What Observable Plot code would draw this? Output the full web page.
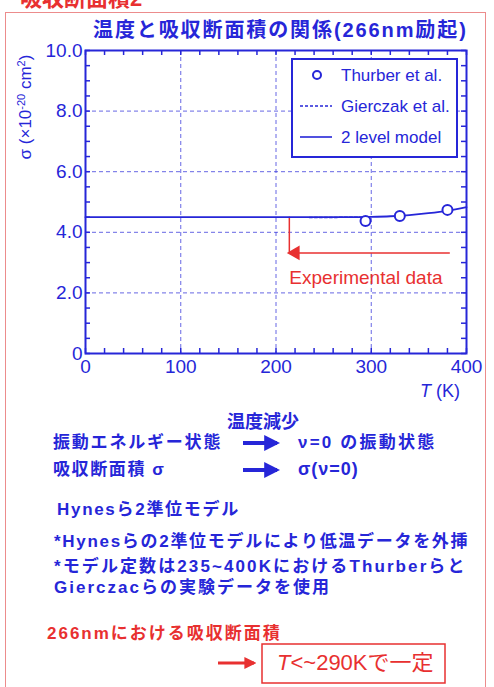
<!DOCTYPE html>
<html><head><meta charset="utf-8">
<script src="https://cdn.jsdelivr.net/npm/d3@7"></script>
<script src="https://cdn.jsdelivr.net/npm/@observablehq/plot@0.6"></script>
<style>
body{margin:0;background:#fff;}
#wrap{position:relative;width:494px;height:687px;overflow:hidden;background:#fff;font-family:"Liberation Sans","Noto Sans CJK JP",sans-serif;}
.t{position:absolute;white-space:nowrap;color:#2626d8;font-family:"Liberation Sans","Noto Sans CJK JP",sans-serif;line-height:1;}
#chart{position:absolute;left:0;top:0;}
</style></head>
<body><div id="wrap">
<div style="position:absolute;left:5px;top:12px;width:479px;height:700px;border:1.5px solid #ec8c8c;"></div>
<div class="t" style="left:20px;top:-12px;font-size:22px;font-weight:bold;color:#e83030;">吸収断面積2</div>
<div id="chart"></div>
<div class="t" style="left:93px;top:20px;font-size:20px;font-weight:bold;letter-spacing:1.9px;">温度と吸収断面積の関係(266nm励起)</div>
<div class="t" style="top:107px;font-size:17px;transform:translate(-50%,-50%) rotate(-90deg);transform-origin:center;left:25px;">σ (×10<sup style="font-size:11px">-20</sup> cm<sup style="font-size:11px">2</sup>)</div>
<div class="t" style="left:420px;top:382px;font-size:18px;"><i>T</i> (K)</div>
<div id="legend" style="position:absolute;left:291px;top:58px;width:167px;height:100px;border:2px solid #2626d8;background:#fff;box-sizing:border-box;"></div>
<div class="t" style="left:227px;top:413px;font-size:18px;font-weight:bold;">温度減少</div>
<div class="t" style="left:53px;top:434px;font-size:17px;font-weight:bold;letter-spacing:1.8px;">振動エネルギー状態</div>
<div class="t" style="left:298px;top:434px;font-size:17px;font-weight:bold;letter-spacing:2.2px;">ν=0 の振動状態</div>
<div class="t" style="left:53px;top:461px;font-size:17px;font-weight:bold;letter-spacing:1.6px;">吸収断面積 σ</div>
<div class="t" style="left:298px;top:460px;font-size:18px;font-weight:bold;letter-spacing:1px;">σ(ν=0)</div>
<svg style="position:absolute;left:0;top:0" width="494" height="687">
 <defs><marker id="ah" viewBox="0 0 10 10" refX="8" refY="5" markerWidth="4" markerHeight="4" orient="auto"><path d="M0,0L10,5L0,10z" fill="#2626d8"/></marker>
 <marker id="ahr" viewBox="0 0 10 10" refX="8" refY="5" markerWidth="4" markerHeight="4" orient="auto"><path d="M0,0L10,5L0,10z" fill="#e83030"/></marker></defs>
 <line x1="243" y1="443" x2="277" y2="443" stroke="#2626d8" stroke-width="4" marker-end="url(#ah)"/>
 <line x1="243" y1="470" x2="277" y2="470" stroke="#2626d8" stroke-width="4" marker-end="url(#ah)"/>
 <line x1="218" y1="663" x2="254" y2="663" stroke="#e83030" stroke-width="3" marker-end="url(#ahr)"/>
 <rect x="262" y="644" width="183" height="39" fill="none" stroke="#e83030" stroke-width="1.5"/>
</svg>
<div class="t" style="left:57px;top:501px;font-size:17px;font-weight:bold;letter-spacing:1.7px;">Hynesら2準位モデル</div>
<div class="t" style="left:54px;top:533px;font-size:17px;font-weight:bold;letter-spacing:1.7px;">*Hynesらの2準位モデルにより低温データを外挿</div>
<div class="t" style="left:54px;top:558px;font-size:17px;font-weight:bold;letter-spacing:2.1px;">*モデル定数は235~400KにおけるThurberらと</div>
<div class="t" style="left:54px;top:579px;font-size:17px;font-weight:bold;letter-spacing:2px;">Gierczacらの実験データを使用</div>
<div class="t" style="left:47px;top:625px;font-size:17px;font-weight:bold;color:#e83030;letter-spacing:2px;">266nmにおける吸収断面積</div>
<div class="t" style="left:277px;top:652px;font-size:22px;color:#e83030;"><i>T</i>&lt;~290Kで一定</div>
</div>
<script>
const blue = "#2626d8";
const red = "#e83030";
// Thurber et al. data points
const thurberT = [294, 330, 380];
const thurberSigma = [4.37, 4.54, 4.74];
// Gierczak et al. (dashed)
const gierczakT = [235, 260, 280, 298];
const gierczakSigma = [4.49, 4.49, 4.5, 4.5];
// 2 level model
const modelT = [0, 50, 100, 150, 200, 250, 280, 300, 320, 340, 360, 380, 400];
const modelSigma = [4.5, 4.5, 4.5, 4.5, 4.5, 4.5, 4.5, 4.51, 4.53, 4.57, 4.63, 4.71, 4.83];
// Experimental data annotation
const expT = [214, 383];
const expSigmaTop = 4.5;
const expSigmaArrow = 3.32;
const expLabelSigma = 2.48;
// ticks
const xMajor = [0, 100, 200, 300, 400];
const xGrid = [100, 200, 300];
const xMinor = d3.range(0, 401, 20);
const yMajor = [0, 2, 4, 6, 8, 10];
const yGrid = [2, 4, 6, 8];
const yMinor = d3.range(0, 10.01, 0.5);

const W = 494, H = 400, mT = 50, mB = 47, mL = 85, mR = 28;
const ph = H - mT - mB, pw = W - mL - mR;
const thurber = thurberT.map((t, i) => ({t, s: thurberSigma[i]}));
const gier = gierczakT.map((t, i) => ({t, s: gierczakSigma[i]}));
const model = modelT.map((t, i) => ({t, s: modelSigma[i]}));

const chart = Plot.plot({
  width: W, height: H, marginTop: mT, marginBottom: mB, marginLeft: mL, marginRight: mR,
  style: {fontFamily: "Liberation Sans, Arial, sans-serif", background: "transparent"},
  x: {domain: [0, 400]},
  y: {domain: [0, 10]},
  marks: [
    Plot.gridX(xGrid, {stroke: blue, strokeOpacity: 0.7, strokeDasharray: "4,3"}),
    Plot.gridY(yGrid, {stroke: blue, strokeOpacity: 0.7, strokeDasharray: "4,3"}),
    Plot.tickX(xMinor, {x: d => d, stroke: blue, strokeWidth: 1.5, insetTop: ph - 5}),
    Plot.tickX(xMinor, {x: d => d, stroke: blue, strokeWidth: 1.5, insetBottom: ph - 5}),
    Plot.tickY(yMinor, {y: d => d, stroke: blue, strokeWidth: 1.5, insetRight: pw - 5}),
    Plot.tickY(yMinor, {y: d => d, stroke: blue, strokeWidth: 1.5, insetLeft: pw - 5}),
    Plot.axisX({ticks: xMajor, tickSize: 0, tickPadding: 6, fontSize: 19, fill: blue, label: null, tickFormat: d => String(d)}),
    Plot.axisY({ticks: yMajor, tickSize: 0, tickPadding: 3, fontSize: 19, fill: blue, label: null, tickFormat: d => d === 0 ? "0" : d.toFixed(1)}),
    Plot.ruleX([expT[0]], {x: d => d, y1: expSigmaArrow, y2: expSigmaTop, stroke: red, strokeWidth: 1.5}),
    Plot.ruleY([expSigmaArrow], {y: d => d, x1: expT[0] + 8, x2: expT[1], stroke: red, strokeWidth: 1.5}),
    Plot.dot([expT[0]], {x: d => d, y: expSigmaArrow, symbol: "triangle", rotate: -90, r: 5.5, fill: red, dx: 6}),
    Plot.text(["Experimental data"], {x: expT[0], y: expLabelSigma, text: d => d, textAnchor: "start", fill: red, fontSize: 19}),
    Plot.line(model, {x: "t", y: "s", stroke: blue, strokeWidth: 1.8, curve: "monotone-x"}),
    Plot.line(gier, {x: "t", y: "s", stroke: blue, strokeWidth: 1.5, strokeDasharray: "3,2"}),
    Plot.dot(thurber, {x: "t", y: "s", r: 5, stroke: blue, strokeWidth: 2, fill: "white"}),
    Plot.frame({stroke: blue, strokeWidth: 2})
  ]
});
document.getElementById("chart").appendChild(chart);

// legend
const lg = d3.select("#legend").append("svg").attr("width", 163).attr("height", 96);
const items = [
  {label: "Thurber et al.", kind: "dot"},
  {label: "Gierczak et al.", kind: "dash"},
  {label: "2 level model", kind: "solid"}
];
items.forEach((it, i) => {
  const y = 15 + i * 31;
  if (it.kind === "dot") lg.append("circle").attr("cx", 24).attr("cy", y).attr("r", 4).attr("fill", "white").attr("stroke", blue).attr("stroke-width", 2);
  else lg.append("line").attr("x1", 7).attr("x2", 39).attr("y1", y).attr("y2", y).attr("stroke", blue).attr("stroke-width", 1.6).attr("stroke-dasharray", it.kind === "dash" ? "3,2" : null);
  lg.append("text").attr("x", 48).attr("y", y).attr("dy", "0.35em").attr("fill", blue).attr("font-size", 17).attr("font-family", "Liberation Sans, Arial, sans-serif").text(it.label);
});
</script>
</body></html>
